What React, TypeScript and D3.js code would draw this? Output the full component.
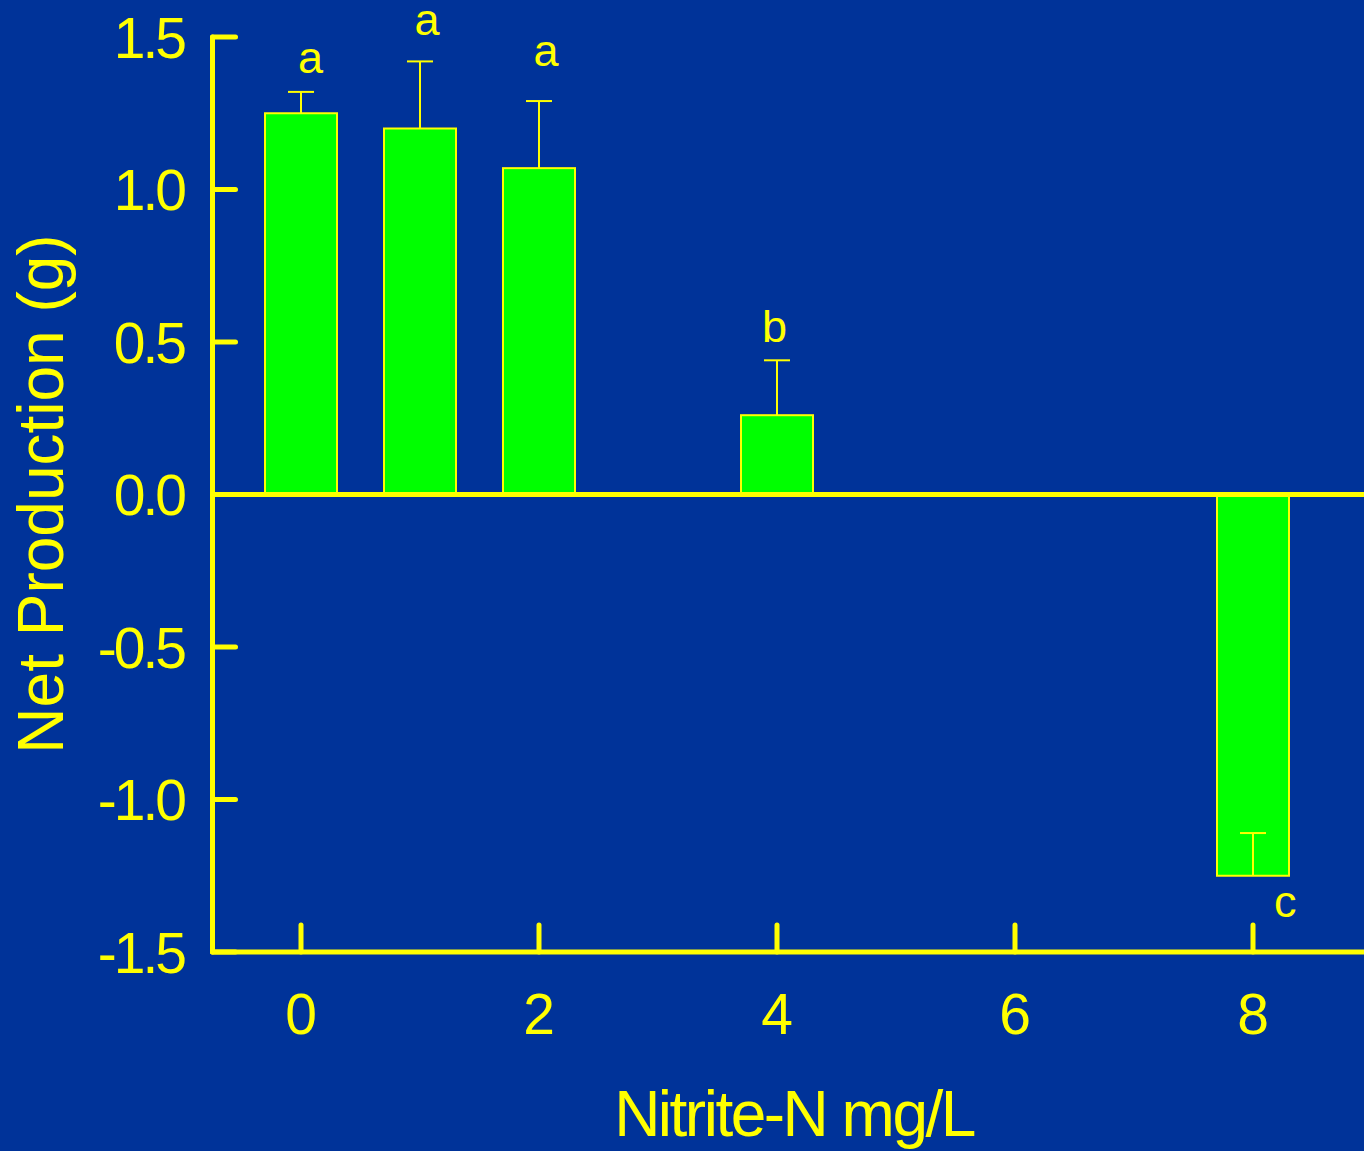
import React from "react";
import * as d3 from "d3";

// Nitrite-N concentration (mg/L) for each treatment
const concentrations = [0, 1, 2, 4, 8];
// Mean net production (g)
const production = [1.25, 1.2, 1.07, 0.26, -1.25];
// Standard error, drawn from the bar end toward zero for the negative bar
const errors = [0.07, 0.22, 0.22, 0.18, 0.14];
// Significance letters, anchored in data coordinates
const letters = ["a", "a", "a", "b", "c"];
const letterX = [0.08, 1.06, 2.06, 3.98, 8.27];
const letterY = [1.382, 1.505, 1.405, 0.5, -1.385];

const yTicks = [-1.5, -1.0, -0.5, 0.0, 0.5, 1.0, 1.5];
const xTicks = [0, 2, 4, 6, 8];

const W = 1364;
const H = 1151;
const BG = "#003399";
const YEL = "#ffff00";
const GREEN = "#00ff00";
const FONT = "'Liberation Sans', Arial, Helvetica, sans-serif";

export default function App() {
  const axisX = 212.5;
  const y = d3.scaleLinear().domain([-1.5, 1.5]).range([952, 37]);
  const x = d3.scaleLinear().domain([0, 8]).range([301, 1253]);
  const barW = x(0.605) - x(0);
  const capHalf = 13;
  const tickSpacing = -3;

  return (
    <div style={{ position: "absolute", left: 0, top: 0 }}>
      <svg width={W} height={H} style={{ display: "block" }}>
        <rect x={0} y={0} width={W} height={H} fill={BG} />

        {/* bars */}
        {concentrations.map((c, i) => {
          const v = production[i];
          const top = y(Math.max(v, 0));
          const bot = y(Math.min(v, 0));
          return (
            <rect
              key={"b" + i}
              x={x(c) - barW / 2}
              y={top}
              width={barW}
              height={bot - top}
              fill={GREEN}
              stroke={YEL}
              strokeWidth={2}
            />
          );
        })}

        {/* error bars */}
        {concentrations.map((c, i) => {
          const v = production[i];
          const end = v + errors[i];
          const cx = x(c);
          return (
            <g key={"e" + i} stroke={YEL} strokeWidth={2}>
              <line x1={cx} x2={cx} y1={y(v)} y2={y(end)} />
              <line x1={cx - capHalf} x2={cx + capHalf} y1={y(end)} y2={y(end)} />
            </g>
          );
        })}

        {/* significance letters */}
        {letters.map((t, i) => (
          <text
            key={"l" + i}
            x={x(letterX[i])}
            y={y(letterY[i])}
            fill={YEL}
            fontFamily={FONT}
            fontSize={45}
            textAnchor="middle"
          >
            {t}
          </text>
        ))}

        {/* zero line */}
        <line x1={axisX} x2={W} y1={y(0)} y2={y(0)} stroke={YEL} strokeWidth={5} />

        {/* y axis */}
        <line x1={axisX} x2={axisX} y1={y(1.5)} y2={y(-1.5)} stroke={YEL} strokeWidth={5} strokeLinecap="round" />
        {yTicks.map((t) => (
          <g key={"yt" + t}>
            <line x1={axisX} x2={axisX + 23} y1={y(t)} y2={y(t)} stroke={YEL} strokeWidth={5} strokeLinecap="round" />
            <text
              x={187 + tickSpacing}
              y={y(t)}
              dy="0.36em"
              fill={YEL}
              fontFamily={FONT}
              fontSize={57}
              letterSpacing={tickSpacing}
              textAnchor="end"
            >
              {d3.format(".1f")(t).replace("−", "-")}
            </text>
          </g>
        ))}

        {/* x axis */}
        <line x1={axisX} x2={W} y1={y(-1.5)} y2={y(-1.5)} stroke={YEL} strokeWidth={5} strokeLinecap="round" />
        {xTicks.map((t) => (
          <g key={"xt" + t}>
            <line x1={x(t)} x2={x(t)} y1={y(-1.5)} y2={y(-1.5) - 27} stroke={YEL} strokeWidth={5} strokeLinecap="round" />
            <text
              x={x(t)}
              y={1034}
              fill={YEL}
              fontFamily={FONT}
              fontSize={57}
              textAnchor="middle"
            >
              {t}
            </text>
          </g>
        ))}

        {/* axis titles */}
        <text
          x={794}
          y={1136}
          fill={YEL}
          fontFamily={FONT}
          fontSize={64}
          letterSpacing={-2.5}
          textAnchor="middle"
        >
          Nitrite-N mg/L
        </text>
        <text
          transform={`translate(63, 494) rotate(-90)`}
          fill={YEL}
          fontFamily={FONT}
          fontSize={64}
          textAnchor="middle"
        >
          Net Production (g)
        </text>
      </svg>
    </div>
  );
}
